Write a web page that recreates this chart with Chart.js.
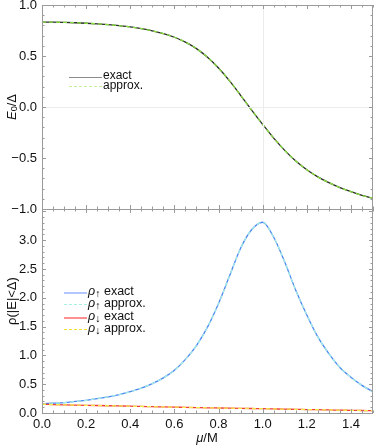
<!DOCTYPE html>
<html>
<head>
<meta charset="utf-8">
<script src="https://cdn.jsdelivr.net/npm/chart.js@4.4.1/dist/chart.umd.min.js"></script>
<style>
  body { margin: 0; background: #fff; width: 374px; height: 446px; position: relative; overflow: hidden;
         font-family: "Liberation Sans", Arial, sans-serif; color: #111; }
  canvas { position: absolute; left: 0; }
  #topChart { top: 0; }
  #botChart { top: 208px; }
  .t { position: absolute; white-space: nowrap; line-height: 1; }
  .ytitle { transform: translate(-50%, -50%) rotate(-90deg); font-size: 13px; }
  .leg { font-size: 12px; }
  .leg2 { font-size: 12.5px; }
  .sw { position: absolute; height: 0; }
  sub { font-size: 85%; vertical-align: -0.2em; line-height: 0; }
</style>
</head>
<body>
<canvas id="topChart" width="374" height="216"></canvas>
<canvas id="botChart" width="374" height="238"></canvas>

<div class="t ytitle" style="left:11px; top:107px;"><i>E</i><sub style="font-size:70%">0</sub>/Δ</div>
<div class="t ytitle" style="left:11px; top:301px;">ρ(|E|&lt;Δ)</div>
<div class="t" style="left:207px; top:437px; transform:translate(-50%,-50%); font-size:13px;"><i>μ</i>/M</div>

<!-- top legend -->
<div class="sw" style="left:69px; width:33px; top:77px; border-top:1px solid #8c8c8c;"></div>
<div class="sw" style="left:69px; width:33px; top:86px; border-top:1px dashed #c4f09c;"></div>
<div class="t leg" style="left:103px; top:69px;">exact</div>
<div class="t leg" style="left:103px; top:79px;">approx.</div>

<!-- bottom legend -->
<div class="sw" style="left:64px; width:23px; top:292px; border-top:2px solid #b3c6ff;"></div>
<div class="sw" style="left:64px; width:23px; top:304px; border-top:1px dashed #a8f0e0;"></div>
<div class="sw" style="left:64px; width:23px; top:317px; border-top:2px solid #ff9090;"></div>
<div class="sw" style="left:64px; width:23px; top:329px; border-top:1px dashed #f2e030;"></div>
<div class="t leg2" style="left:88px; top:285px;"><i>ρ</i><sub>↑</sub> exact</div>
<div class="t leg2" style="left:88px; top:297px;"><i>ρ</i><sub>↑</sub> approx.</div>
<div class="t leg2" style="left:88px; top:310px;"><i>ρ</i><sub>↓</sub> exact</div>
<div class="t leg2" style="left:88px; top:322px;"><i>ρ</i><sub>↓</sub> approx.</div>

<script>
// chemical potential samples (mu / M)
const mu = [0.00, 0.05, 0.10, 0.15, 0.20, 0.25, 0.30, 0.35, 0.40, 0.45,
            0.50, 0.55, 0.60, 0.65, 0.70, 0.75, 0.80, 0.85, 0.90, 0.95,
            1.00, 1.05, 1.10, 1.15, 1.20, 1.25, 1.30, 1.35, 1.40, 1.45, 1.50];

// ground state energy E0 / Delta
const e0Exact = [0.833, 0.832, 0.830, 0.826, 0.821, 0.815, 0.807, 0.797, 0.785, 0.768,
                 0.747, 0.720, 0.684, 0.636, 0.572, 0.488, 0.382, 0.256, 0.115, -0.030,
                 -0.170, -0.305, -0.425, -0.530, -0.615, -0.685, -0.742, -0.790, -0.830, -0.866, -0.895];
const e0Approx = [0.833, 0.832, 0.830, 0.826, 0.821, 0.815, 0.807, 0.797, 0.785, 0.768,
                  0.747, 0.720, 0.684, 0.636, 0.572, 0.488, 0.382, 0.256, 0.115, -0.030,
                  -0.170, -0.305, -0.425, -0.530, -0.615, -0.685, -0.742, -0.790, -0.830, -0.866, -0.895];

// density of states inside the gap
const rhoUpExact = [0.16, 0.17, 0.18, 0.20, 0.22, 0.25, 0.28, 0.32, 0.37, 0.43,
                    0.51, 0.61, 0.74, 0.93, 1.17, 1.49, 1.90, 2.38, 2.86, 3.18,
                    3.31, 3.05, 2.62, 2.13, 1.70, 1.32, 1.03, 0.79, 0.62, 0.48, 0.37];
const rhoUpApprox = [0.16, 0.17, 0.18, 0.20, 0.22, 0.25, 0.28, 0.32, 0.37, 0.43,
                     0.51, 0.61, 0.74, 0.93, 1.17, 1.49, 1.90, 2.38, 2.86, 3.18,
                     3.31, 3.05, 2.62, 2.13, 1.70, 1.32, 1.03, 0.79, 0.62, 0.48, 0.37];
const rhoDownExact = [0.150, 0.146, 0.142, 0.138, 0.134, 0.130, 0.126, 0.122, 0.118, 0.114,
                      0.110, 0.106, 0.102, 0.098, 0.094, 0.090, 0.087, 0.084, 0.081, 0.078,
                      0.075, 0.071, 0.067, 0.064, 0.060, 0.057, 0.053, 0.050, 0.046, 0.043, 0.040];
const rhoDownApprox = [0.150, 0.146, 0.142, 0.138, 0.134, 0.130, 0.126, 0.122, 0.118, 0.114,
                       0.110, 0.106, 0.102, 0.098, 0.094, 0.090, 0.087, 0.084, 0.081, 0.078,
                       0.075, 0.071, 0.067, 0.064, 0.060, 0.057, 0.053, 0.050, 0.046, 0.043, 0.040];

const toPoints = (ys) => ys.map((y, i) => ({ x: mu[i], y: y }));
const fmt = (v) => v.toFixed(1).replace('-', '\u2212');

// frame with inward ticks on all four sides, plus faint grid lines
const frameTicks = {
    id: 'frameTicks',
    afterDatasetsDraw(chart, args, opts) {
        const { ctx, chartArea: a, scales } = chart;
        const x = scales.x, y = scales.y;
        ctx.save();
        ctx.lineWidth = 1;
        if (opts.grid) {
            ctx.strokeStyle = '#ececec';
            const gx = Math.round(x.getPixelForValue(1.0)) + 0.5;
            const gy = Math.round(y.getPixelForValue(0)) + 0.5;
            ctx.beginPath();
            ctx.moveTo(gx, a.top); ctx.lineTo(gx, a.bottom);
            ctx.moveTo(a.left, gy); ctx.lineTo(a.right, gy);
            ctx.stroke();
        }
        ctx.strokeStyle = '#9a9a9a';
        ctx.beginPath();
        for (let k = 0; k * opts.xStep <= x.max + 1e-9; k++) {
            const px = Math.round(x.getPixelForValue(k * opts.xStep)) + 0.5;
            const len = k % opts.xMajor === 0 ? 4 : 2.5;
            ctx.moveTo(px, a.bottom); ctx.lineTo(px, a.bottom - len);
            ctx.moveTo(px, a.top); ctx.lineTo(px, a.top + len);
        }
        const k0 = Math.ceil(y.min / opts.yStep - 1e-9);
        for (let k = k0; k * opts.yStep <= y.max + 1e-9; k++) {
            const py = Math.round(y.getPixelForValue(k * opts.yStep)) + 0.5;
            const len = k % opts.yMajor === 0 ? 4 : 2.5;
            ctx.moveTo(a.left, py); ctx.lineTo(a.left + len, py);
            ctx.moveTo(a.right, py); ctx.lineTo(a.right - len, py);
        }
        ctx.stroke();
        ctx.strokeRect(a.left + 0.5, a.top + 0.5, a.right - a.left - 1, a.bottom - a.top);
        ctx.restore();
    }
};

const fixY = (w) => (scale) => { scale.width = w; scale.paddingTop = 0; scale.paddingBottom = 0; };
const fixX = (h) => (scale) => { scale.height = h; scale.paddingLeft = 0; scale.paddingRight = 0; };
const tickFont = { family: '"Liberation Sans", Arial, sans-serif', size: 13 };

const line = (data, color, dashed, order) => ({
    data: toPoints(data),
    borderColor: color,
    borderWidth: 1.3,
    borderDash: dashed ? [4, 3] : [],
    pointRadius: 0,
    cubicInterpolationMode: 'monotone',
    order: order,
});

new Chart(document.getElementById('topChart'), {
    type: 'line',
    data: {
        datasets: [
            line(e0Exact, '#2b2b2b', false, 1),
            line(e0Approx, '#86dc3c', true, 0),
        ],
    },
    options: {
        responsive: false,
        animation: false,
        layout: { padding: { left: 0, right: 1, top: 5, bottom: 0 } },
        plugins: {
            legend: { display: false },
            tooltip: { enabled: false },
            frameTicks: { grid: true, xStep: 0.05, xMajor: 4, yStep: 0.1, yMajor: 5 },
        },
        scales: {
            x: {
                type: 'linear', min: 0, max: 1.5,
                ticks: { display: false },
                grid: { display: false },
                border: { display: false },
                afterFit: fixX(7),
            },
            y: {
                min: -1, max: 1,
                ticks: { stepSize: 0.5, padding: 5, color: '#111', font: tickFont, callback: fmt },
                grid: { display: false, drawTicks: false },
                border: { display: false },
                afterFit: fixY(42),
            },
        },
    },
    plugins: [frameTicks],
});

new Chart(document.getElementById('botChart'), {
    type: 'line',
    data: {
        datasets: [
            line(rhoUpExact, '#4d86f2', false, 3),
            line(rhoUpApprox, '#a4ece4', true, 2),
            line(rhoDownExact, '#f03c3c', false, 1),
            line(rhoDownApprox, '#f5e84a', true, 0),
        ],
    },
    options: {
        responsive: false,
        animation: false,
        layout: { padding: { left: 0, right: 1, top: 1, bottom: 0 } },
        plugins: {
            legend: { display: false },
            tooltip: { enabled: false },
            frameTicks: { grid: false, xStep: 0.05, xMajor: 4, yStep: 0.1, yMajor: 5 },
        },
        scales: {
            x: {
                type: 'linear', min: 0, max: 1.5,
                ticks: { stepSize: 0.2, includeBounds: false, padding: 4, maxRotation: 0,
                         color: '#111', font: tickFont, callback: fmt },
                grid: { display: false, drawTicks: false },
                border: { display: false },
                afterFit: fixX(33),
            },
            y: {
                min: 0, max: 3.54,
                ticks: { stepSize: 0.5, includeBounds: false, padding: 5, color: '#111', font: tickFont,
                         callback: (v) => (v > 3.2 ? null : fmt(v)) },
                grid: { display: false, drawTicks: false },
                border: { display: false },
                afterFit: fixY(42),
            },
        },
    },
    plugins: [frameTicks],
});
</script>
</body>
</html>
